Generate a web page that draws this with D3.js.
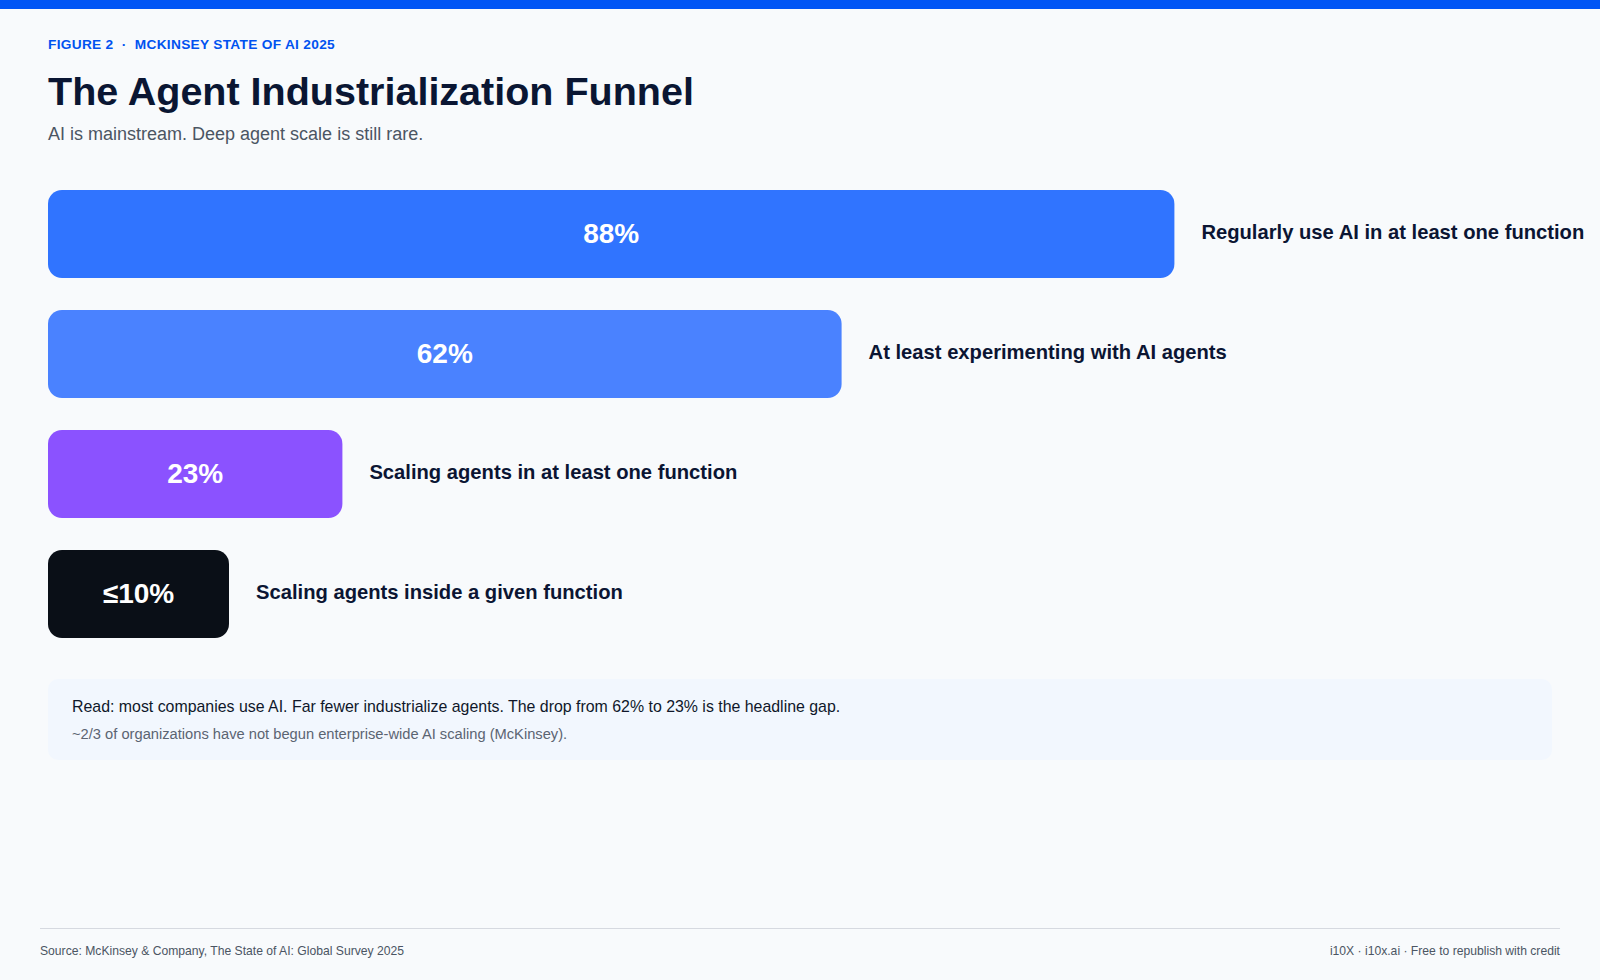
<!DOCTYPE html>
<html>
<head>
<meta charset="utf-8">
<script src="https://cdn.jsdelivr.net/npm/d3@7"></script>
<style>
  html, body { margin: 0; padding: 0; background: #F8FAFC; }
  svg { display: block; font-family: "Liberation Sans", Arial, Helvetica, sans-serif; }
</style>
</head>
<body>
<svg id="chart" width="1600" height="980"></svg>
<script>
const categories = [
  "Regularly use AI in at least one function",
  "At least experimenting with AI agents",
  "Scaling agents in at least one function",
  "Scaling agents inside a given function"
];
const values = [88, 62, 23, 10];
const valueLabels = ["88%", "62%", "23%", "\u226410%"];
const barColors = ["#3074FF", "#4A82FF", "#8B52FF", "#0A0F17"];

const kicker = "FIGURE 2  \u00B7  MCKINSEY STATE OF AI 2025";
const title = "The Agent Industrialization Funnel";
const subtitle = "AI is mainstream. Deep agent scale is still rare.";
const noteMain = "Read: most companies use AI. Far fewer industrialize agents. The drop from 62% to 23% is the headline gap.";
const noteSub = "~2/3 of organizations have not begun enterprise-wide AI scaling (McKinsey).";
const sourceText = "Source: McKinsey & Company, The State of AI: Global Survey 2025";
const creditText = "i10X \u00B7 i10x.ai \u00B7 Free to republish with credit";

const W = 1600, H = 980;
const svg = d3.select("#chart");

svg.append("rect").attr("x", 0).attr("y", 0).attr("width", W).attr("height", H).attr("fill", "#F8FAFC");
svg.append("rect").attr("x", 0).attr("y", 0).attr("width", W).attr("height", 9).attr("fill", "#0055F5");

svg.append("text").attr("x", 48).attr("y", 49)
  .attr("font-size", 13.7).attr("font-weight", 700).attr("fill", "#0052F0")
  .attr("letter-spacing", "0.3px").attr("xml:space", "preserve").style("white-space", "pre")
  .text(kicker);

svg.append("text").attr("x", 48).attr("y", 105)
  .attr("font-size", 39.5).attr("font-weight", 700).attr("fill", "#0A1633")
  .text(title);

svg.append("text").attr("x", 48).attr("y", 140)
  .attr("font-size", 18).attr("fill", "#4B5563")
  .text(subtitle);

// Scales
const x = d3.scaleLinear().domain([0, 100]).range([0, 1280]);
const y = d3.scaleBand().domain(categories).range([190, 638]).paddingInner(32 / 120).paddingOuter(0);
const minBarWidth = 181;
const left = 48;

const rows = svg.append("g").selectAll("g").data(categories).join("g")
  .attr("transform", d => `translate(${left},${y(d)})`);

rows.append("rect")
  .attr("x", 0).attr("y", 0)
  .attr("width", (d, i) => Math.max(x(values[i]), minBarWidth))
  .attr("height", y.bandwidth())
  .attr("rx", 14).attr("ry", 14)
  .attr("fill", (d, i) => barColors[i]);

rows.append("text")
  .attr("x", (d, i) => Math.max(x(values[i]), minBarWidth) / 2)
  .attr("y", y.bandwidth() / 2 - 1)
  .attr("dy", "0.35em")
  .attr("text-anchor", "middle")
  .attr("font-size", 28).attr("font-weight", 700).attr("fill", "#FFFFFF")
  .text((d, i) => valueLabels[i]);

rows.append("text")
  .attr("x", (d, i) => Math.max(x(values[i]), minBarWidth) + 27)
  .attr("y", y.bandwidth() / 2 - 2)
  .attr("dy", "0.35em")
  .attr("font-size", 20.2).attr("font-weight", 700).attr("fill", "#0B1533")
  .text(d => d);

// Note box
svg.append("rect").attr("x", 48).attr("y", 679).attr("width", 1504).attr("height", 81)
  .attr("rx", 10).attr("fill", "#F2F7FE");
svg.append("text").attr("x", 72).attr("y", 712)
  .attr("font-size", 15.9).attr("fill", "#0F172A").text(noteMain);
svg.append("text").attr("x", 72).attr("y", 739)
  .attr("font-size", 14.7).attr("fill", "#5B6472").text(noteSub);

// Footer
svg.append("line").attr("x1", 40).attr("x2", 1560).attr("y1", 928.5).attr("y2", 928.5)
  .attr("stroke", "#D6D9E0").attr("stroke-width", 1);
svg.append("text").attr("x", 40).attr("y", 955)
  .attr("font-size", 12.15).attr("fill", "#4B5563").text(sourceText);
svg.append("text").attr("x", 1560).attr("y", 955).attr("text-anchor", "end")
  .attr("font-size", 12.15).attr("fill", "#4B5563").text(creditText);
</script>
</body>
</html>
